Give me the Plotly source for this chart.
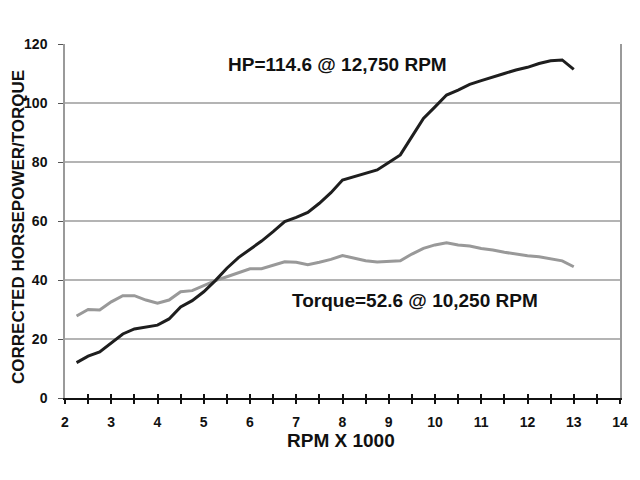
import plotly.graph_objects as go

rpm = [2.25, 2.5, 2.75, 3.0, 3.25, 3.5, 3.75, 4.0, 4.25, 4.5, 4.75, 5.0, 5.25, 5.5, 5.75,
       6.0, 6.25, 6.5, 6.75, 7.0, 7.25, 7.5, 7.75, 8.0, 8.25, 8.5, 8.75, 9.0, 9.25, 9.5,
       9.75, 10.0, 10.25, 10.5, 10.75, 11.0, 11.25, 11.5, 11.75, 12.0, 12.25, 12.5, 12.75, 13.0]
hp = [12.0, 14.2, 15.6, 18.5, 21.7, 23.4, 24.1, 24.7, 26.8, 30.9, 33.0, 36.0, 39.8, 44.0, 47.6,
      50.4, 53.2, 56.4, 59.8, 61.2, 62.9, 66.0, 69.6, 73.9, 75.0, 76.2, 77.3, 79.8, 82.4, 88.6,
      94.8, 98.7, 102.7, 104.4, 106.3, 107.6, 108.9, 110.0, 111.2, 112.1, 113.4, 114.3, 114.6, 111.4]
torque = [27.8, 30.0, 29.8, 32.6, 34.7, 34.7, 33.2, 32.1, 33.2, 36.0, 36.4, 38.0, 39.8, 41.1, 42.5,
          43.8, 43.8, 44.9, 46.2, 46.0, 45.2, 46.0, 47.0, 48.3, 47.5, 46.5, 46.1, 46.4, 46.5, 48.8,
          50.7, 51.9, 52.6, 51.9, 51.5, 50.7, 50.2, 49.4, 48.8, 48.2, 47.9, 47.3, 46.5, 44.5]

hp_label = "HP=114.6 @ 12,750 RPM"
tq_label = "Torque=52.6 @ 10,250 RPM"
x_title = "RPM X 1000"
y_title = "CORRECTED HORSEPOWER/TORQUE"

FONT = "Liberation Sans"

fig = go.Figure()
fig.add_trace(go.Scatter(x=rpm, y=torque, mode="lines",
                         line=dict(color="#999999", width=3), showlegend=False))
fig.add_trace(go.Scatter(x=rpm, y=hp, mode="lines",
                         line=dict(color="#1e1e1e", width=3), showlegend=False))
# invisible trace on overlay axis for inside ticks
fig.add_trace(go.Scatter(x=[2, 14], y=[0, 0], mode="lines", xaxis="x2",
                         line=dict(width=0), hoverinfo="skip", showlegend=False))

fig.add_annotation(x=7.89, y=112.9, text=hp_label, showarrow=False,
                   font=dict(family=FONT, size=19, color="#111111", weight="bold"))
fig.add_annotation(x=9.57, y=33.2, text=tq_label, showarrow=False,
                   font=dict(family=FONT, size=19, color="#111111", weight="bold"))
# axis titles
fig.add_annotation(xref="paper", yref="paper", x=0.497, y=-0.119, text=x_title,
                   showarrow=False, xanchor="center", yanchor="middle",
                   font=dict(family=FONT, size=19, color="#111111", weight="bold"))
fig.add_annotation(xref="paper", yref="paper", x=-0.0847, y=0.483, text=y_title,
                   showarrow=False, xanchor="center", yanchor="middle", textangle=-90,
                   font=dict(family=FONT, size=17, color="#111111", weight="bold"))

fig.update_layout(
    width=640, height=480,
    margin=dict(l=65, r=20, t=44, b=82),
    paper_bgcolor="white", plot_bgcolor="white",
    font=dict(family=FONT, color="#111111"),
    xaxis=dict(range=[2, 14], dtick=1, tick0=2, showgrid=False, zeroline=False,
               automargin=False,
               showline=True, linecolor="#111111", linewidth=2,
               ticks="outside", ticklen=4, tickwidth=2, tickcolor="#111111",
               minor=dict(dtick=0.5, ticks="outside", ticklen=4, tickwidth=2, tickcolor="#111111"),
               tickfont=dict(family=FONT, size=14, weight="bold", color="#111111"),
               ticklabelstandoff=6),
    xaxis2=dict(range=[2, 14], overlaying="x", side="bottom", showgrid=False, zeroline=False,
                automargin=False,
                showline=False, showticklabels=False, dtick=0.5, tick0=2,
                ticks="inside", ticklen=4, tickwidth=2, tickcolor="#111111"),
    yaxis=dict(range=[0, 120], dtick=20, showgrid=True, gridcolor="#b4b4b4", gridwidth=1.5,
               automargin=False,
               zeroline=False, showline=True, linecolor="#9a9a9a", linewidth=1.5, mirror=True,
               ticks="outside", ticklen=5, tickcolor="#555555",
               tickfont=dict(family=FONT, size=14, weight="bold", color="#111111"),
               ticklabelstandoff=8),
)

fig.write_html("out.html")
